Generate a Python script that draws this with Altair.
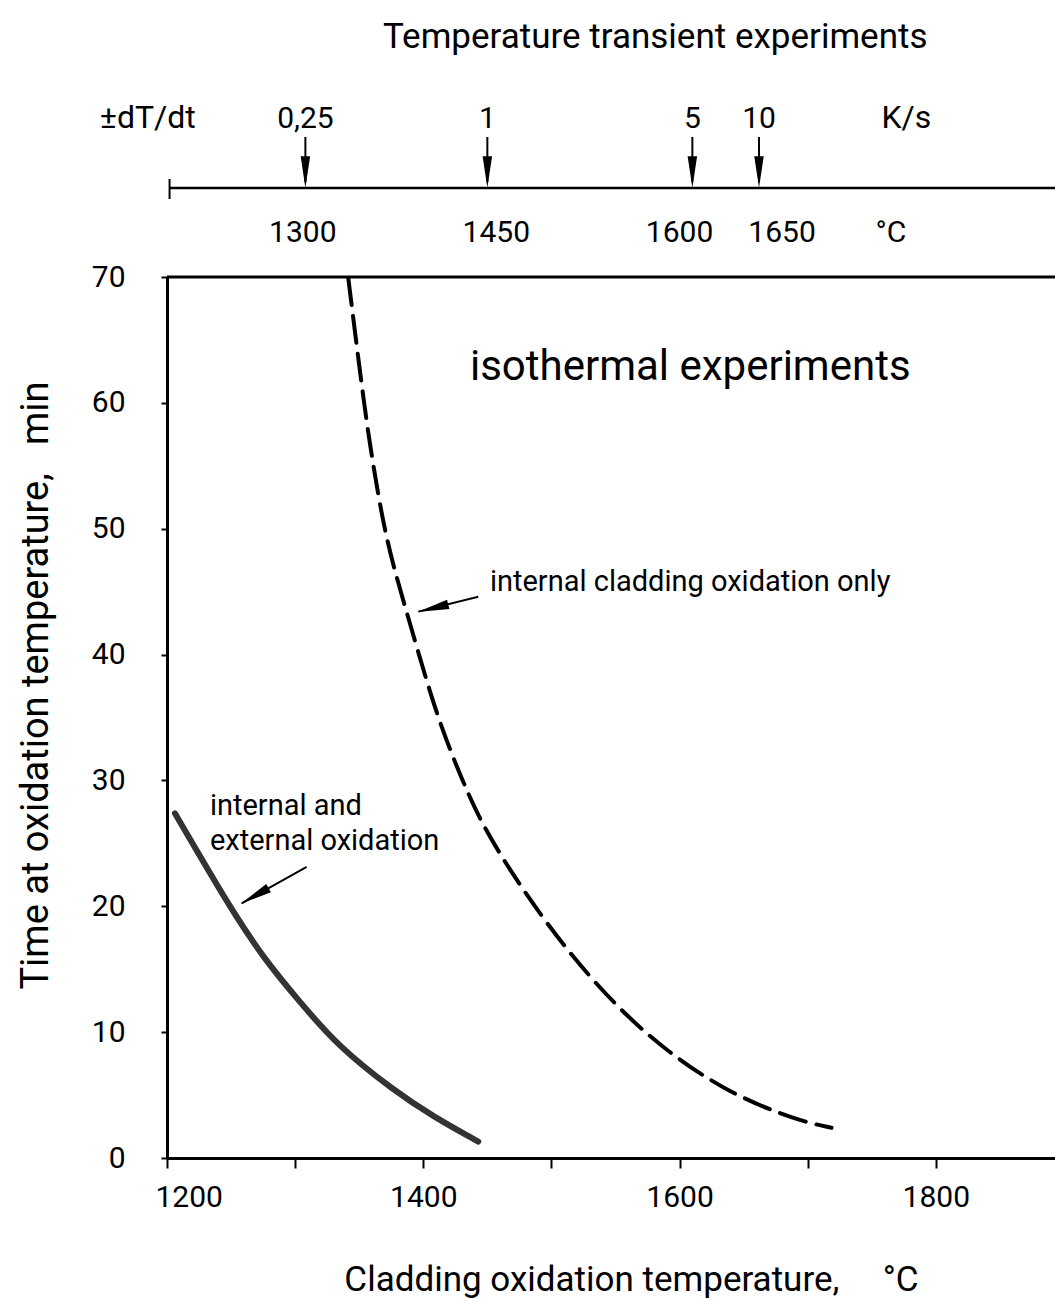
import altair as alt
import pandas as pd

# ---------------- data ----------------
# internal and external oxidation (solid curve)
solid_T = [1206.2, 1224.4, 1250.5, 1276.5, 1302.4, 1333.7, 1376.6, 1407.8, 1442.9]
solid_t = [27.39, 24.21, 19.70, 15.73, 12.55, 8.84, 5.40, 3.28, 1.30]

# internal cladding oxidation only (dashed curve)
dash_T = [1341.5, 1349.3, 1357.1, 1367.5, 1376.6, 1389.6, 1410.4, 1431.2,
          1446.8, 1475.4, 1511.9, 1550.9, 1589.9, 1639.3, 1691.3, 1718.6]
dash_t = [69.9, 63.5, 57.4, 51.0, 47.0, 42.5, 35.1, 29.8,
          26.3, 21.6, 16.5, 12.0, 8.45, 5.1, 3.0, 2.4]

# temperature transient experiments (top scale)
rates = ["0,25", "1", "5", "10"]
rate_T = [1308, 1450, 1610, 1662]
temp_labels = ["1300", "1450", "1600", "1650"]
temp_label_T = [1306, 1457, 1600, 1680]

x_ticks = [1200, 1300, 1400, 1500, 1600, 1700, 1800]
y_ticks = [0, 10, 20, 30, 40, 50, 60, 70]

FONT = "Roboto"

solid_df = pd.DataFrame({"T": solid_T, "t": solid_t})
dash_df = pd.DataFrame({"T": dash_T, "t": dash_t})

x_scale = alt.Scale(domain=[1200, 1893], nice=False, zero=False)
y_scale = alt.Scale(domain=[0, 70], nice=False, zero=False)

x_axis = alt.Axis(
    values=x_ticks, format="d",
    labelExpr="datum.value % 200 == 0 ? datum.label : ''",
    title="Cladding oxidation temperature,\u00a0\u00a0\u00a0\u00a0\u00a0\u00b0C",
    titleX=464, titleY=132, titleAlign="center", titleBaseline="alphabetic",
    titleFontSize=35, titleFontWeight="normal", titleFont=FONT, titleColor="black",
    labelFontSize=30, labelFont=FONT, labelColor="black", labelPadding=14,
    labelFlush=True, labelFlushOffset=12,
    tickSize=10, tickWidth=2, tickColor="black",
    domainWidth=3, domainColor="black", grid=False,
)
y_axis = alt.Axis(
    values=y_ticks, format="d",
    title="Time at oxidation temperature,\u00a0\u00a0\u00a0min",
    titleAngle=270, titleX=-120, titleY=408, titleAlign="center",
    titleBaseline="alphabetic",
    titleFontSize=38, titleFontWeight="normal", titleFont=FONT, titleColor="black",
    labelFontSize=30, labelFont=FONT, labelColor="black", labelPadding=36,
    tickSize=6, tickWidth=2, tickColor="black",
    domainWidth=3, domainColor="black", grid=False,
)

X = alt.X("T:Q", scale=x_scale, axis=x_axis)
Y = alt.Y("t:Q", scale=y_scale, axis=y_axis)
Xs = alt.X("T:Q", scale=x_scale)
Ys = alt.Y("t:Q", scale=y_scale)

solid = alt.Chart(solid_df).mark_line(
    color="#333333", strokeWidth=6, interpolate="basis", strokeCap="round"
).encode(x=X, y=Y)

dashed = alt.Chart(dash_df).mark_line(
    color="black", strokeWidth=4, interpolate="basis", strokeCap="round",
    strokeDash=[27, 11]
).encode(x=Xs, y=Ys)

top_frame = alt.Chart(pd.DataFrame({"t": [70]})).mark_rule(
    color="black", strokeWidth=3
).encode(y=Ys)

# annotation arrows inside the plot (start -> tip)
arrows = pd.DataFrame({
    "T": [1442.9, 1309.0], "t": [44.6, 23.14],
    "T2": [1396.1, 1258.3], "t2": [43.41, 20.24],
})
arrow_lines = alt.Chart(arrows).mark_rule(color="black", strokeWidth=2).encode(
    x=Xs, y=Ys, x2="T2:Q", y2="t2:Q"
)
HEAD = "M0,-1L0.3,1L-0.3,1Z"
heads = pd.DataFrame({"T": [1407.5, 1268.5], "t": [43.69, 20.83], "ang": [255.9, 240.6]})
arrow_heads = alt.Chart(heads).mark_point(
    shape=HEAD, filled=True, color="black", size=1000, opacity=1
).encode(x=Xs, y=Ys, angle=alt.Angle("ang:Q", scale=None))

notes = pd.DataFrame({
    "T": [1436.4, 1452.0, 1233.5, 1233.5],
    "t": [61.8, 45.05, 27.25, 24.47],
    "txt": ["isothermal experiments", "internal cladding oxidation only",
            "internal and", "external oxidation"],
    "fs": [42, 29, 29, 29],
})
note_text = alt.Chart(notes).mark_text(
    align="left", baseline="alphabetic", font=FONT, color="black"
).encode(x=Xs, y=Ys, text="txt:N", size=alt.Size("fs:Q", scale=None))

# ---------------- top: temperature transient experiments ----------------
scale_line = alt.Chart(pd.DataFrame({"T": [1202], "T2": [1893]})).mark_rule(
    color="black", strokeWidth=2.5
).encode(x=Xs, x2="T2:Q", y=alt.value(-89))
scale_end = alt.Chart(pd.DataFrame({"T": [1202]})).mark_rule(
    color="black", strokeWidth=2
).encode(x=Xs, y=alt.value(-98), y2=alt.value(-78))

rate_df = pd.DataFrame({"T": rate_T, "rate": rates})
rate_shafts = alt.Chart(rate_df).mark_rule(color="black", strokeWidth=2).encode(
    x=Xs, y=alt.value(-140), y2=alt.value(-95)
)
rate_heads = alt.Chart(rate_df).mark_point(
    shape=HEAD, filled=True, color="black", size=1000, opacity=1, angle=180
).encode(x=Xs, y=alt.value(-105))
rate_text = alt.Chart(rate_df).mark_text(
    align="center", baseline="alphabetic", font=FONT, fontSize=30, color="black"
).encode(x=Xs, y=alt.value(-149), text="rate:N")

temp_df = pd.DataFrame({"T": temp_label_T, "lab": temp_labels})
temp_text = alt.Chart(temp_df).mark_text(
    align="center", baseline="alphabetic", font=FONT, fontSize=30, color="black"
).encode(x=Xs, y=alt.value(-35), text="lab:N")

top_notes = pd.DataFrame({
    "T": [1581, 1185, 1777, 1765],
    "txt": ["Temperature transient experiments", "\u00b1dT/dt", "K/s", "\u00b0C"],
    "row": ["title", "rate", "rate", "temp"],
})
top_title = alt.Chart(top_notes[top_notes.row == "title"]).mark_text(
    align="center", baseline="alphabetic", font=FONT, fontSize=35, color="black"
).encode(x=Xs, y=alt.value(-229), text="txt:N")
top_rate_lab = alt.Chart(top_notes[top_notes.row == "rate"]).mark_text(
    align="center", baseline="alphabetic", font=FONT, fontSize=32, color="black"
).encode(x=Xs, y=alt.value(-149), text="txt:N")
top_temp_lab = alt.Chart(top_notes[top_notes.row == "temp"]).mark_text(
    align="center", baseline="alphabetic", font=FONT, fontSize=30, color="black"
).encode(x=Xs, y=alt.value(-35), text="txt:N")

chart = alt.layer(
    solid, dashed, top_frame, arrow_lines, arrow_heads, note_text,
    scale_line, scale_end, rate_shafts, rate_heads, rate_text, temp_text,
    top_title, top_rate_lab, top_temp_lab,
).properties(
    width=888, height=881,
    autosize=alt.AutoSizeParams(type="none"),
    padding={"left": 167, "top": 277, "right": 0, "bottom": 141},
    background="white",
).configure_view(strokeWidth=0).configure_text(font=FONT)

chart.save("out.html", embed_options={"renderer": "svg", "actions": False})
